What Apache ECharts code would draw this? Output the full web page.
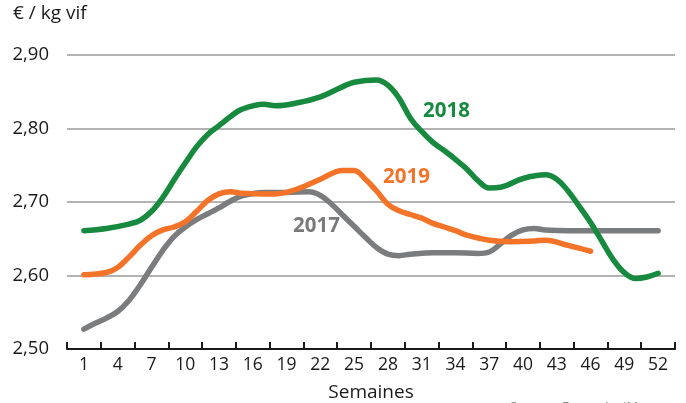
<!DOCTYPE html>
<html><head><meta charset="utf-8">
<script src="https://cdn.jsdelivr.net/npm/echarts@6/dist/echarts.min.js"></script>
<style>html,body{margin:0;padding:0;background:#fff}#c{width:686px;height:403px}</style>
</head><body><div id="c"></div>
<script>
const weekLabels = ['1','4','7','10','13','16','19','22','25','28','31','34','37','40','43','46','49','52'];
const yTicks = ['2,50','2,60','2,70','2,80','2,90'];

const w2017 = [1,2,3,4,5,6,7,8,9,10,11,12,13,14,15,17,19,21,22,23,24,25,26,27,28,29,30,32,34,36,37,38,39,40,41,42,44,48,52];
const v2017 = [2.527,2.535,2.542,2.551,2.566,2.587,2.611,2.634,2.653,2.666,2.676,2.684,2.692,2.701,2.708,2.713,2.713,2.714,2.709,2.697,2.682,2.667,2.652,2.638,2.629,2.627,2.629,2.631,2.631,2.630,2.632,2.643,2.655,2.662,2.664,2.662,2.661,2.661,2.661];

const w2018 = [1,3,5,6,7,8,9,10,11,12,13,14,15,17,18,20,22,24,25,27,28,29,30,31,32,33,34,35,36,37,38,40,42,43,44,45,46,47,48,49,50,51,52];
const v2018 = [2.661,2.664,2.670,2.675,2.687,2.706,2.730,2.753,2.775,2.792,2.804,2.816,2.826,2.833,2.831,2.835,2.843,2.857,2.863,2.866,2.859,2.841,2.814,2.796,2.781,2.770,2.758,2.745,2.729,2.719,2.720,2.732,2.737,2.731,2.715,2.694,2.672,2.647,2.622,2.604,2.596,2.598,2.603];

const w2019 = [1,3,4,5,6,7,8,9,10,11,12,13,14,15,17,18,20,22,24,25,26,27,28,29,30,31,32,33,34,35,37,39,41,42,44,46];
const v2019 = [2.601,2.604,2.611,2.625,2.641,2.654,2.662,2.666,2.673,2.687,2.702,2.711,2.714,2.712,2.711,2.711,2.718,2.731,2.743,2.743,2.731,2.715,2.697,2.688,2.683,2.678,2.671,2.666,2.661,2.655,2.648,2.646,2.647,2.648,2.641,2.633];

const FONT = '"Open Sans", sans-serif';
const pairs = (w, v) => w.map((x, i) => [x, v[i]]);
const chart = echarts.init(document.getElementById('c'));
const line = (name, data, color) => ({
  name, type:'line', xAxisIndex:1, data, smooth:0.4, symbol:'none',
  lineStyle:{color, width:5.5, cap:'round', join:'round'}, z: 3
});
chart.setOption({
  animation:false,
  grid:{left:67, right:11, top:55, bottom:54, containLabel:false, outerBoundsMode:'none'},
  xAxis:[{type:'category', data:weekLabels, boundaryGap:true,
    name:'Semaines', nameLocation:'middle', nameGap:34,
    nameTextStyle:{fontFamily:FONT, fontSize:19, color:'#1a1a1a'},
    axisLine:{lineStyle:{color:'#1a1a1a', width:2}},
    axisTick:{show:true, length:7, inside:true, lineStyle:{color:'#1a1a1a', width:2}},
    axisLabel:{fontFamily:FONT, fontSize:17.5, color:'#1a1a1a', margin:7, interval:0},
    splitLine:{show:false}},
   {type:'value', min:-0.5, max:53.5, show:false, position:'bottom'}],
  yAxis:{type:'value', min:2.5, max:2.9, interval:0.1,
    axisLine:{show:false}, axisTick:{show:false},
    axisLabel:{fontFamily:FONT, fontSize:18.5, color:'#1a1a1a', margin:18,
      formatter:(v)=>yTicks[Math.round((v-2.5)*10)]},
    splitLine:{lineStyle:{color:'#9a9a9a', width:1.5}}},
  graphic:[
    {type:'text', left:13, top:4, style:{text:'€ / kg vif', font:'19px '+FONT, fill:'#1a1a1a'}},
    {type:'text', left:423, top:101, style:{text:'2018', font:'bold 20.5px '+FONT, fill:'#178a3f'}},
    {type:'text', left:383, top:167, style:{text:'2019', font:'bold 20.5px '+FONT, fill:'#f37429'}},
    {type:'text', left:293, top:216, style:{text:'2017', font:'bold 20.5px '+FONT, fill:'#7a7a7a'}},
    {type:'text', left:510, top:401, style:{text:'Source : FranceAgriMer', font:'13px '+FONT, fill:'#8a8a8a'}}
  ],
  series:[
    line('2017', pairs(w2017, v2017), '#7b7c7e'),
    line('2019', pairs(w2019, v2019), '#f37429'),
    line('2018', pairs(w2018, v2018), '#178a3f')
  ]
});
</script></body></html>
